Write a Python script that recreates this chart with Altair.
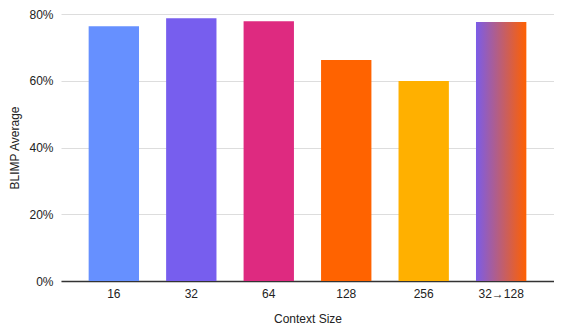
import altair as alt
import pandas as pd

categories = ["16", "32", "64", "128", "256", "32→128"]
values = [0.7635, 0.787, 0.778, 0.662, 0.599, 0.776]
colors = ["#6690FF", "#775EEE", "#DE2A80", "#FF6300", "#FFB000"]
y_ticks = [0, 0.2, 0.4, 0.6, 0.8]

df = pd.DataFrame({"ctx": categories, "val": values})

FONT = "Liberation Sans"

x_enc = alt.X(
    "ctx:N",
    sort=categories,
    scale=alt.Scale(domain=categories, paddingInner=0.35, paddingOuter=0.357),
    axis=alt.Axis(
        title="Context Size",
        labelAngle=0,
        ticks=False,
        grid=False,
        domainColor="#333333",
        domainWidth=1.5,
        labelPadding=7,
        titlePadding=14,
        labelFontSize=12,
        titleFontSize=12,
        titleFontWeight="normal",
        labelColor="#222222",
        titleColor="#222222",
        labelFont=FONT,
        titleFont=FONT,
    ),
)

y_enc = alt.Y(
    "val:Q",
    scale=alt.Scale(domain=[0, 0.8], nice=False),
    axis=alt.Axis(
        title="BLIMP Average",
        values=y_ticks,
        format=".0%",
        domain=False,
        ticks=False,
        gridColor="#DDDDDD",
        gridWidth=1,
        labelPadding=8,
        titlePadding=7,
        labelFontSize=12,
        titleFontSize=12,
        titleFontWeight="normal",
        labelColor="#222222",
        titleColor="#222222",
        labelFont=FONT,
        titleFont=FONT,
    ),
)

plain = (
    alt.Chart(df)
    .transform_filter(alt.datum.ctx != "32→128")
    .mark_bar(cornerRadius=0)
    .encode(
        x=x_enc,
        y=y_enc,
        color=alt.Color("ctx:N", scale=alt.Scale(domain=categories[:5], range=colors), legend=None),
    )
)

grad = (
    alt.Chart(df)
    .transform_filter(alt.datum.ctx == "32→128")
    .mark_bar(
        color=alt.Gradient(
            gradient="linear",
            stops=[
                alt.GradientStop(color="#7B5CE8", offset=0),
                alt.GradientStop(color="#FF6000", offset=1),
            ],
            x1=0, x2=1, y1=0, y2=0,
        )
    )
    .encode(x=x_enc, y=y_enc)
)

chart = (
    alt.layer(plain, grad)
    .properties(
        width=546,
        height=316,
        padding=0,
        autosize=alt.AutoSizeParams(type="fit", contains="padding"),
    )
    .configure_view(stroke=None)
)

chart.save("out.html", embed_options={"renderer": "svg", "actions": False})
